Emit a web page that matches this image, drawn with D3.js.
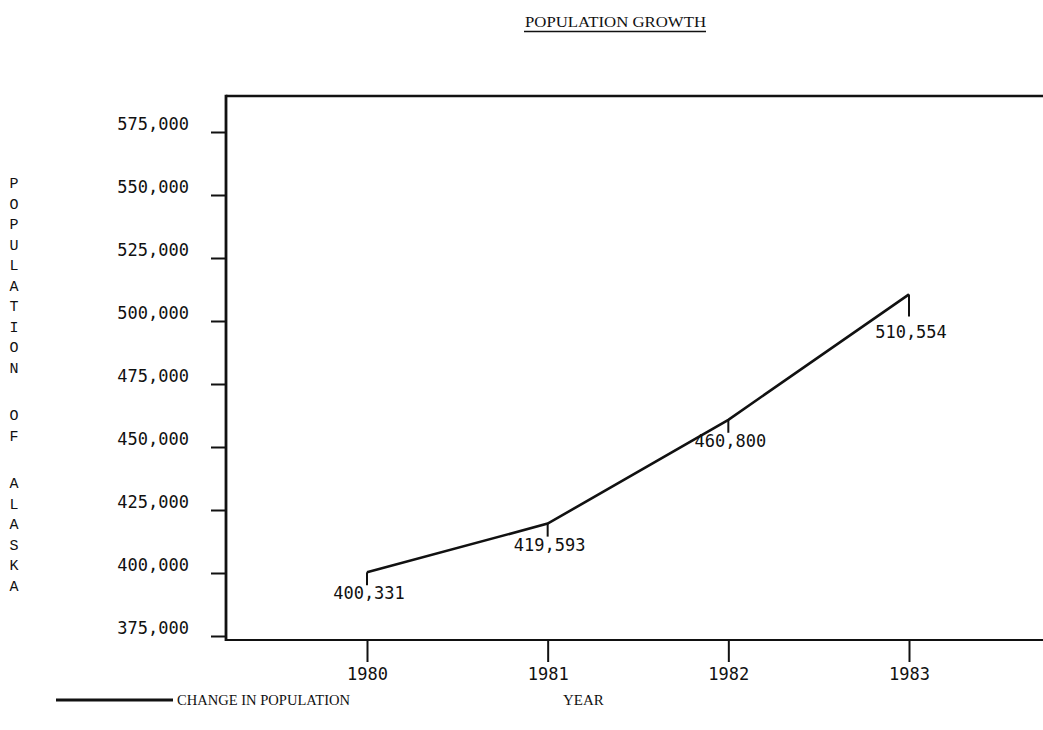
<!DOCTYPE html>
<html>
<head>
<meta charset="utf-8">
<script src="https://cdn.jsdelivr.net/npm/d3@7"></script>
<style>
  html, body { margin: 0; padding: 0; background: #fff; }
  svg { display: block; }
</style>
</head>
<body>
<svg id="chart" width="1043" height="730"></svg>
<script>
// ---- data ----
const years = [1980, 1981, 1982, 1983];
const population = [400331, 419593, 460800, 510554];
const yTicks = [375000, 400000, 425000, 450000, 475000, 500000, 525000, 550000, 575000];
const title = "POPULATION GROWTH";
const yTitle = "POPULATION OF ALASKA";
const xTitle = "YEAR";
const legendLabel = "CHANGE IN POPULATION";

const svg = d3.select("#chart");
const ink = "#111";
const numFont = "'DejaVu Sans Mono', 'Liberation Mono', monospace";
const serifFont = "'Liberation Serif', 'DejaVu Serif', serif";

const x = d3.scaleLinear().domain([1980, 1983]).range([367, 909]);
const y = d3.scaleLinear().domain([375000, 575000]).range([636, 132]);

const frameLeft = 226, frameTop = 96, frameBottom = 640, frameRight = 1043 + 5;

// title
svg.append("text")
  .attr("x", 525).attr("y", 27)
  .attr("font-family", serifFont).attr("font-size", 15)
  .attr("textLength", 181).attr("lengthAdjust", "spacingAndGlyphs")
  .attr("fill", ink).text(title);
svg.append("line")
  .attr("x1", 524).attr("x2", 706).attr("y1", 31.5).attr("y2", 31.5)
  .attr("stroke", ink).attr("stroke-width", 1.6);

// frame
svg.append("line").attr("x1", frameLeft).attr("x2", frameRight)
  .attr("y1", frameTop).attr("y2", frameTop)
  .attr("stroke", ink).attr("stroke-width", 2.5);
svg.append("line").attr("x1", frameLeft).attr("x2", frameRight)
  .attr("y1", frameBottom).attr("y2", frameBottom)
  .attr("stroke", ink).attr("stroke-width", 2.2);
svg.append("line").attr("x1", frameLeft).attr("x2", frameLeft)
  .attr("y1", frameTop - 1.2).attr("y2", frameBottom + 1)
  .attr("stroke", ink).attr("stroke-width", 2.8);

// y axis
const yAxis = d3.axisLeft(y).tickValues(yTicks)
  .tickSize(15).tickPadding(0)
  .tickFormat(d3.format(","));
const gy = svg.append("g").attr("transform", `translate(${frameLeft},0)`).call(yAxis);
gy.select(".domain").remove();
gy.selectAll(".tick line").attr("stroke", ink).attr("stroke-width", 2);
gy.selectAll(".tick text")
  .attr("x", -37).attr("dy", "-0.15em")
  .attr("font-family", numFont).attr("font-size", 17)
  .attr("fill", ink);

// x axis
const xAxis = d3.axisBottom(x).tickValues(years)
  .tickSize(22).tickPadding(6).tickFormat(d3.format("d"));
const gx = svg.append("g").attr("transform", `translate(0,${frameBottom})`).call(xAxis);
gx.select(".domain").remove();
gx.selectAll(".tick line").attr("stroke", ink).attr("stroke-width", 2);
gx.selectAll(".tick text")
  .attr("font-family", numFont).attr("font-size", 17)
  .attr("fill", ink);

// data line
const pts = years.map((yr, i) => ({ yr, v: population[i], last: i === years.length - 1 }));
svg.append("path")
  .datum(pts)
  .attr("d", d3.line().x(d => x(d.yr)).y(d => y(d.v)))
  .attr("fill", "none").attr("stroke", ink).attr("stroke-width", 2.6)
  .attr("stroke-linejoin", "miter");

// point markers and value labels (last label dropped below the rising line)
const fmt = d3.format(",");
const mk = svg.append("g");
mk.selectAll("line").data(pts).join("line")
  .attr("x1", d => x(d.yr)).attr("x2", d => x(d.yr))
  .attr("y1", d => y(d.v)).attr("y2", d => y(d.v) + (d.last ? 22 : 13))
  .attr("stroke", ink).attr("stroke-width", 2);
mk.selectAll("text").data(pts).join("text")
  .attr("x", d => x(d.yr) + 2).attr("y", d => y(d.v) + (d.last ? 44 : 27))
  .attr("text-anchor", "middle")
  .attr("font-family", numFont).attr("font-size", 17)
  .attr("fill", ink).text(d => fmt(d.v));

// vertical y title
const letters = [];
let yy = 183;
yTitle.split("").forEach(ch => {
  if (ch === " ") { yy += 27; return; }
  letters.push({ ch, y: yy });
  yy += 20.5;
});
svg.append("g").selectAll("text").data(letters).join("text")
  .attr("x", 14).attr("y", d => d.y + 5)
  .attr("text-anchor", "middle")
  .attr("font-family", "'Liberation Mono', 'DejaVu Sans Mono', monospace")
  .attr("font-size", 15).attr("fill", ink)
  .text(d => d.ch);

// legend
svg.append("line").attr("x1", 56).attr("x2", 173).attr("y1", 700).attr("y2", 700)
  .attr("stroke", ink).attr("stroke-width", 3);
svg.append("text").attr("x", 177).attr("y", 705)
  .attr("font-family", serifFont).attr("font-size", 15)
  .attr("textLength", 173).attr("lengthAdjust", "spacingAndGlyphs")
  .attr("fill", ink).text(legendLabel);

// x title
svg.append("text").attr("x", 563).attr("y", 705)
  .attr("font-family", serifFont).attr("font-size", 15)
  .attr("fill", ink).text(xTitle);
</script>
</body>
</html>
